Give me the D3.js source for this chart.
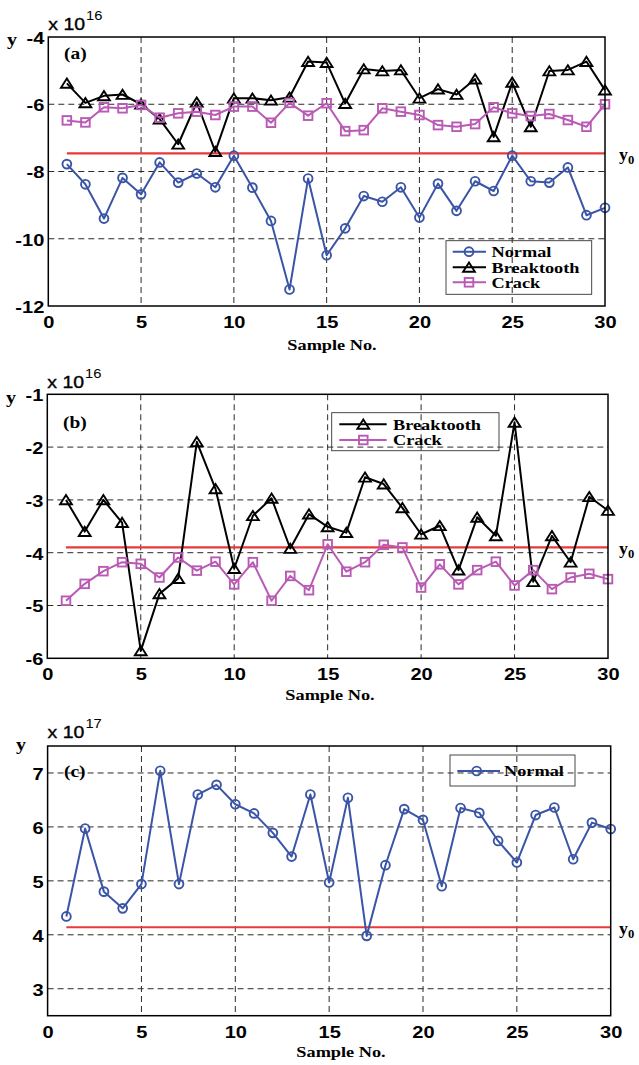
<!DOCTYPE html>
<html>
<head>
<meta charset="utf-8">
<script src="https://cdn.jsdelivr.net/npm/d3@7"></script>
<style>
  html, body { margin: 0; padding: 0; background: #fff; }
  svg { display: block; }
</style>
</head>
<body>
<svg id="fig" width="639" height="1065"></svg>
<script>
// ---- data ----
const samples = [1,2,3,4,5,6,7,8,9,10,11,12,13,14,15,16,17,18,19,20,21,22,23,24,25,26,27,28,29,30];
const xTicks = [0, 5, 10, 15, 20, 25, 30];

// (a) values in units of 1e16
const normalA = [-7.78,-8.38,-9.40,-8.19,-8.68,-7.73,-8.33,-8.06,-8.47,-7.53,
                 -8.48,-9.47,-11.51,-8.21,-10.49,-9.69,-8.73,-8.90,-8.47,-9.37,
                 -8.36,-9.17,-8.29,-8.58,-7.53,-8.29,-8.33,-7.88,-9.30,-9.08];
const breaktoothA = [-5.38,-5.96,-5.75,-5.71,-6.00,-6.44,-7.19,-5.94,-7.41,-5.82,
                     -5.82,-5.88,-5.79,-4.73,-4.76,-5.98,-4.95,-5.01,-4.98,-5.82,
                     -5.55,-5.71,-5.25,-6.97,-5.35,-6.67,-5.01,-4.98,-4.73,-5.58];
const crackA = [-6.48,-6.54,-6.09,-6.12,-6.02,-6.40,-6.27,-6.22,-6.32,-6.07,
                -6.07,-6.55,-5.96,-6.34,-5.97,-6.80,-6.77,-6.12,-6.22,-6.32,
                -6.62,-6.67,-6.59,-6.09,-6.27,-6.35,-6.29,-6.47,-6.67,-6.00];
const thresholdA = -7.46;
const yTicksA = [-12, -10, -8, -6, -4];

// (b) values in units of 1e16
const breaktoothB = [-3.00,-3.60,-3.00,-3.43,-5.86,-4.78,-4.49,-1.90,-2.79,-4.30,
                     -3.30,-2.97,-3.92,-3.27,-3.51,-3.62,-2.57,-2.70,-3.15,-3.65,
                     -3.49,-4.33,-3.33,-3.68,-1.53,-4.55,-3.68,-4.18,-2.94,-3.20];
const crackB = [-4.91,-4.59,-4.35,-4.18,-4.21,-4.47,-4.09,-4.34,-4.17,-4.60,
                -4.18,-4.91,-4.44,-4.71,-3.84,-4.36,-4.18,-3.85,-3.90,-4.66,
                -4.22,-4.60,-4.33,-4.17,-4.62,-4.33,-4.69,-4.47,-4.40,-4.50];
const thresholdB = -3.90;
const yTicksB = [-6, -5, -4, -3, -2, -1];

// (c) values in units of 1e17
const normalC = [4.34,5.97,4.80,4.49,4.94,7.04,4.94,6.60,6.78,6.42,
                 6.25,5.89,5.45,6.60,4.97,6.54,3.98,5.29,6.33,6.13,
                 4.90,6.35,6.26,5.74,5.34,6.22,6.36,5.40,6.08,5.96];
const thresholdC = 4.14;
const yTicksC = [3, 4, 5, 6, 7];

// ---- styles ----
const SANS = "'Liberation Sans', Arial, Helvetica, sans-serif";
const SERIF = "'Liberation Serif', 'Times New Roman', Times, serif";
const SX = 1.18;               // horizontal text stretch of the figure
const COLORS = { normal: '#3a54a6', breaktooth: '#000000', crack: '#b95ab4', threshold: '#e8393b', grid: '#2a2a2a' };

const seriesStyle = {
  Normal:     { color: COLORS.normal, shape: 'circle' },
  Breaktooth: { color: COLORS.breaktooth, shape: 'triangle' },
  Crack:      { color: COLORS.crack, shape: 'square' }
};

// ---- layout ----
const panels = [
  {
    tag: '(a)', exp: '16', yDomain: [-12, -4], yTicks: yTicksA, threshold: thresholdA,
    series: [['Normal', normalA], ['Breaktooth', breaktoothA], ['Crack', crackA]],
    box: { left: 48.3, right: 605, top: 37, bottom: 306 },
    expPos: [48.3, 29.5], yLab: [7, 45], tagPos: [64, 59], xTickBase: 327.5, xLab: [332, 350],
    legend: { x: 446, y: 240.7, w: 145.7, h: 53.6, rows: [251.7, 267.3, 282.3], l0: 452.7, l1: 486, m: 469, t: 491.5 }
  },
  {
    tag: '(b)', exp: '16', yDomain: [-6, -1], yTicks: yTicksB, threshold: thresholdB,
    series: [['Breaktooth', breaktoothB], ['Crack', crackB]],
    box: { left: 47.3, right: 608, top: 394.3, bottom: 658.3 },
    expPos: [47.3, 387.7], yLab: [6, 402.5], tagPos: [63, 427.5], xTickBase: 679.5, xLab: [330, 700],
    legend: { x: 331.7, y: 412.7, w: 167.3, h: 38, rows: [424.3, 440], l0: 339.3, l1: 386.7, m: 363.3, t: 393 }
  },
  {
    tag: '(c)', exp: '17', yDomain: [2.5, 7.5], yTicks: yTicksC, threshold: thresholdC,
    series: [['Normal', normalC]],
    box: { left: 47.6, right: 610.7, top: 746, bottom: 1015.7 },
    expPos: [47.6, 738.3], yLab: [16, 750], tagPos: [64, 777], xTickBase: 1037.5, xLab: [341, 1057],
    legend: { x: 450, y: 755, w: 125, h: 31, rows: [771], l0: 457.3, l1: 500, m: 476.7, t: 504 }
  }
];

const svg = d3.select('#fig');

function stretchedText(g, x, y, str, family, size, weight, anchor) {
  return g.append('text')
    .attr('transform', `translate(${x},${y}) scale(${SX},1)`)
    .attr('font-family', family)
    .attr('font-size', size)
    .attr('font-weight', weight || 'bold')
    .attr('text-anchor', anchor || 'start')
    .attr('fill', '#000')
    .text(str);
}

function drawMarker(g, shape, cx, cy, color) {
  if (shape === 'circle') {
    g.append('circle').attr('cx', cx).attr('cy', cy).attr('r', 4.4)
      .attr('fill', 'none').attr('stroke', color).attr('stroke-width', 1.9);
  } else if (shape === 'triangle') {
    g.append('path')
      .attr('d', `M${cx},${cy - 4.8} L${cx + 5.9},${cy + 4.4} L${cx - 5.9},${cy + 4.4} Z`)
      .attr('fill', 'none').attr('stroke', color).attr('stroke-width', 1.9).attr('stroke-linejoin', 'miter');
  } else {
    g.append('rect').attr('x', cx - 4.3).attr('y', cy - 4.3).attr('width', 8.6).attr('height', 8.6)
      .attr('fill', 'none').attr('stroke', color).attr('stroke-width', 1.9);
  }
}

const tickText = d => String(d);   // plain hyphen-minus, as in the printed axes

panels.forEach(p => {
  const b = p.box;
  const x = d3.scaleLinear().domain([0, 30]).range([b.left, b.right]);
  const y = d3.scaleLinear().domain(p.yDomain).range([b.bottom, b.top]);
  const g = svg.append('g');

  // dashed grid
  g.selectAll('line.vgrid').data(xTicks.filter(t => t > 0 && t < 30)).join('line')
    .attr('x1', d => x(d)).attr('x2', d => x(d)).attr('y1', b.top).attr('y2', b.bottom)
    .attr('stroke', COLORS.grid).attr('stroke-width', 1).attr('stroke-dasharray', '6,4');
  g.selectAll('line.hgrid').data(p.yTicks.filter(t => t > p.yDomain[0] && t < p.yDomain[1])).join('line')
    .attr('x1', b.left).attr('x2', b.right).attr('y1', d => y(d)).attr('y2', d => y(d))
    .attr('stroke', COLORS.grid).attr('stroke-width', 1).attr('stroke-dasharray', '6,4');

  // threshold y0
  g.append('line')
    .attr('x1', x(samples[0])).attr('x2', x(samples[samples.length - 1]))
    .attr('y1', y(p.threshold)).attr('y2', y(p.threshold))
    .attr('stroke', COLORS.threshold).attr('stroke-width', 2.2);

  // series
  p.series.forEach(([name, values]) => {
    const st = seriesStyle[name];
    const line = d3.line().x((d, i) => x(samples[i])).y(d => y(d));
    g.append('path').datum(values).attr('d', line)
      .attr('fill', 'none').attr('stroke', st.color).attr('stroke-width', 2).attr('stroke-linejoin', 'round');
    values.forEach((v, i) => drawMarker(g, st.shape, x(samples[i]), y(v), st.color));
  });

  // frame
  g.append('rect').attr('x', b.left).attr('y', b.top)
    .attr('width', b.right - b.left).attr('height', b.bottom - b.top)
    .attr('fill', 'none').attr('stroke', '#000').attr('stroke-width', 1.5);

  // x axis tick labels
  const xa = g.append('g').attr('transform', `translate(0,${b.bottom})`)
    .call(d3.axisBottom(x).tickValues(xTicks).tickSize(0).tickFormat(tickText));
  xa.select('.domain').remove();
  xa.selectAll('text')
    .attr('y', 0).attr('dy', 0)
    .attr('transform', `translate(0,${p.xTickBase - b.bottom}) scale(${SX},1)`)
    .attr('font-family', SANS).attr('font-size', 17).attr('font-weight', 'bold').attr('fill', '#000');

  // y axis tick labels
  const ya = g.append('g').attr('transform', `translate(${b.left},0)`)
    .call(d3.axisLeft(y).tickValues(p.yTicks).tickSize(0).tickFormat(tickText));
  ya.select('.domain').remove();
  ya.selectAll('text')
    .attr('x', -4 / SX).attr('dy', '0.37em')
    .attr('transform', `scale(${SX},1)`)
    .attr('font-family', SANS).attr('font-size', 17).attr('font-weight', 'bold').attr('fill', '#000');

  // exponent "x 10^n"
  const base = stretchedText(g, p.expPos[0], p.expPos[1], 'x 10', SANS, 16.5, 'normal')
    .attr('stroke', '#000').attr('stroke-width', 0.35);
  const w = base.node().getComputedTextLength() * SX;
  stretchedText(g, p.expPos[0] + w + 1, p.expPos[1] - 10, p.exp, SANS, 12.5, 'normal');

  // y label
  stretchedText(g, p.yLab[0], p.yLab[1], 'y', SERIF, 17, 'bold');

  // panel tag
  stretchedText(g, p.tagPos[0], p.tagPos[1], p.tag, SERIF, 16.5, 'bold');

  // x label
  stretchedText(g, p.xLab[0], p.xLab[1], 'Sample No.', SERIF, 15.5, 'bold', 'middle');

  // y0 label
  const y0 = g.append('text')
    .attr('transform', `translate(619,${y(p.threshold) + 7}) scale(1.05,1)`)
    .attr('font-family', SERIF).attr('font-size', 17).attr('font-weight', 'bold').attr('fill', '#000')
    .text('y');
  y0.append('tspan').attr('font-size', 12).attr('dy', 3.5).text('0');

  // legend
  const L = p.legend;
  g.append('rect').attr('x', L.x).attr('y', L.y).attr('width', L.w).attr('height', L.h)
    .attr('fill', 'none').attr('stroke', '#333').attr('stroke-width', 0.9);
  p.series.forEach(([name], i) => {
    const st = seriesStyle[name];
    const ry = L.rows[i];
    g.append('line').attr('x1', L.l0).attr('x2', L.l1).attr('y1', ry).attr('y2', ry)
      .attr('stroke', st.color).attr('stroke-width', 2);
    drawMarker(g, st.shape, L.m, ry, st.color);
    stretchedText(g, L.t, ry + 5.2, name, SERIF, 15.5, 'bold');
  });
});
</script>
</body>
</html>
